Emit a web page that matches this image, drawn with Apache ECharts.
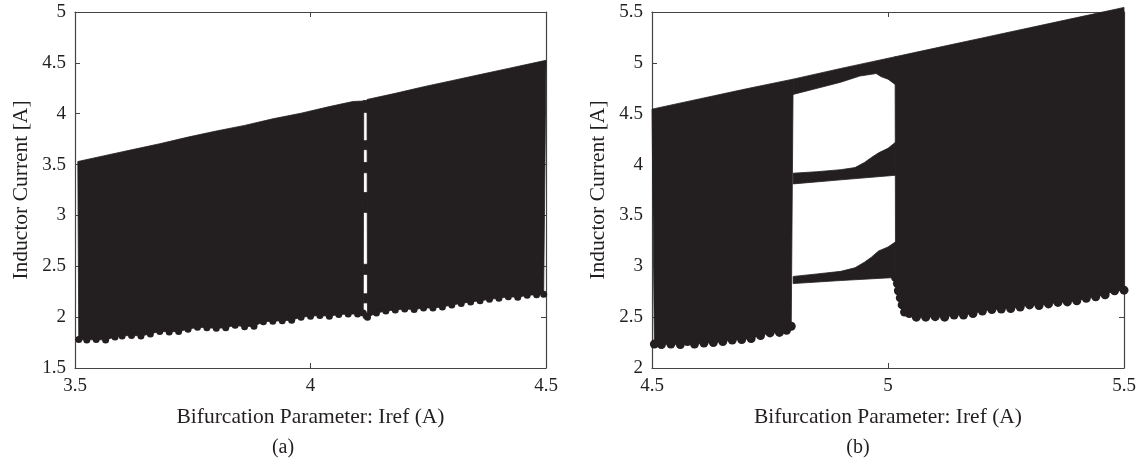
<!DOCTYPE html>
<html>
<head>
<meta charset="utf-8">
<title>Bifurcation diagrams</title>
<script src="https://cdn.jsdelivr.net/npm/echarts@6/dist/echarts.min.js"></script>
<style>
  html, body { margin: 0; padding: 0; background: #ffffff; }
  #chart { width: 1142px; height: 473px; }
</style>
</head>
<body>
<div id="chart"></div>
<script>
// ---- Axis ticks ----
const xTicksA = [3.5, 4, 4.5];
const yTicksA = [1.5, 2, 2.5, 3, 3.5, 4, 4.5, 5];
const xTicksB = [4.5, 5, 5.5];
const yTicksB = [2, 2.5, 3, 3.5, 4, 4.5, 5, 5.5];

// ---- Panel (a): chaotic band, Iref 3.5 .. 4.5 ----
// upper envelope of the band left of the narrow window
const aLeftTop = [[3.506, 3.53], [3.56, 3.585], [3.62, 3.645], [3.68, 3.705], [3.74, 3.77], [3.80, 3.83],
                  [3.86, 3.885], [3.92, 3.95], [3.98, 4.005], [4.04, 4.07], [4.09, 4.12], [4.113, 4.125]];
// lower samples (dot centres) left of the window
const aLeftBottom = [[3.508, 1.78], [3.525, 1.775], [3.545, 1.78], [3.565, 1.775], [3.585, 1.805], [3.60, 1.815],
                     [3.62, 1.82], [3.64, 1.815], [3.66, 1.835], [3.68, 1.86], [3.70, 1.855], [3.72, 1.86],
                     [3.74, 1.88], [3.76, 1.90], [3.78, 1.895], [3.80, 1.89], [3.82, 1.895], [3.84, 1.92],
                     [3.86, 1.905], [3.88, 1.91], [3.90, 1.955], [3.92, 1.96], [3.94, 1.965], [3.96, 1.97],
                     [3.98, 2.0], [4.0, 2.01], [4.02, 2.015], [4.04, 2.01], [4.06, 2.025], [4.08, 2.03],
                     [4.10, 2.03], [4.112, 2.04]];
// upper envelope right of the window
const aRightTop = [[4.12, 4.14], [4.18, 4.2], [4.24, 4.265], [4.30, 4.325], [4.36, 4.385], [4.42, 4.445],
                   [4.48, 4.505], [4.5, 4.525]];
// lower samples right of the window
const aRightBottom = [[4.121, 2.0], [4.14, 2.04], [4.16, 2.06], [4.18, 2.07], [4.20, 2.08], [4.22, 2.075],
                      [4.24, 2.09], [4.26, 2.09], [4.28, 2.10], [4.30, 2.12], [4.32, 2.135], [4.34, 2.15],
                      [4.36, 2.16], [4.38, 2.175], [4.40, 2.185], [4.42, 2.20], [4.44, 2.195], [4.46, 2.215],
                      [4.48, 2.22], [4.495, 2.225]];
// the narrow window and the points that still fall inside it
const aWindow = [4.112, 4.121];
const aWindowHits = [[4.013, 4.13], [3.647, 3.735], [3.42, 3.52], [3.03, 3.225], [2.42, 2.52], [2.14, 2.23], [1.99, 2.04]];

// ---- Panel (b): Iref 4.5 .. 5.5 with a period-3 window ----
const bLeftTop = [[4.5, 4.545], [4.6, 4.645], [4.7, 4.745], [4.799, 4.84]];
const bLeftBottom = [[4.505, 2.235], [4.52, 2.23], [4.54, 2.235], [4.56, 2.23], [4.575, 2.26], [4.59, 2.235],
                     [4.61, 2.245], [4.63, 2.25], [4.65, 2.26], [4.67, 2.275], [4.69, 2.28], [4.71, 2.29],
                     [4.73, 2.32], [4.75, 2.345], [4.77, 2.35], [4.785, 2.37], [4.795, 2.41]];
const bTopBranchTop = [[4.799, 4.84], [4.9, 4.945], [5.016, 5.061]];
const bTopBranchBottom = [[4.799, 4.69], [4.85, 4.75], [4.9, 4.81], [4.94, 4.87], [4.975, 4.895],
                          [4.985, 4.865], [5.0, 4.84], [5.016, 4.785]];
const bMidBranchTop = [[4.799, 3.915], [4.85, 3.93], [4.9, 3.95], [4.93, 3.97], [4.95, 4.02], [4.965, 4.07],
                       [4.98, 4.115], [5.0, 4.16], [5.016, 4.22]];
const bMidBranchBottom = [[4.799, 3.81], [4.9, 3.85], [5.016, 3.895]];
const bLowBranchTop = [[4.799, 2.9], [4.85, 2.925], [4.9, 2.95], [4.93, 2.985], [4.95, 3.04], [4.965, 3.09],
                       [4.98, 3.15], [5.0, 3.19], [5.016, 3.24]];
const bLowBranchBottom = [[4.799, 2.83], [4.9, 2.86], [5.016, 2.89]];
const bRightTop = [[5.015, 5.06], [5.1, 5.145], [5.2, 5.245], [5.3, 5.345], [5.4, 5.445], [5.5, 5.545]];
const bRightBottom = [[5.016, 2.89], [5.02, 2.83], [5.022, 2.76], [5.026, 2.69], [5.03, 2.62], [5.035, 2.55],
                      [5.045, 2.535], [5.06, 2.50], [5.08, 2.50], [5.10, 2.505], [5.12, 2.50], [5.14, 2.52],
                      [5.16, 2.52], [5.18, 2.535], [5.20, 2.56], [5.22, 2.575], [5.24, 2.58], [5.26, 2.585],
                      [5.28, 2.60], [5.30, 2.62], [5.32, 2.615], [5.34, 2.63], [5.36, 2.645], [5.38, 2.65],
                      [5.40, 2.66], [5.42, 2.685], [5.44, 2.70], [5.46, 2.72], [5.48, 2.76], [5.5, 2.765]];

const INK = '#231f20';
const AXIS = '#444444';
const FONT = '"Liberation Serif", "DejaVu Serif", serif';

// closed outline: top edge left→right, then bottom edge right→left
function outline(top, bottom) {
  return top.concat(bottom.slice().reverse());
}
function windowBoxes(win, hits) {
  return hits.map(h => [[win[0], h[0]], [win[1], h[0]], [win[1], h[1]], [win[0], h[1]]]);
}

const shapesA = [outline(aLeftTop, aLeftBottom), outline(aRightTop, aRightBottom)]
  .concat(windowBoxes(aWindow, aWindowHits));
const shapesB = [
  outline(bLeftTop, bLeftBottom),
  outline(bTopBranchTop, bTopBranchBottom),
  outline(bMidBranchTop, bMidBranchBottom),
  outline(bLowBranchTop, bLowBranchBottom),
  outline(bRightTop, bRightBottom)
];

function polygonSeries(shapes, axisIdx) {
  return {
    type: 'custom',
    xAxisIndex: axisIdx, yAxisIndex: axisIdx,
    silent: true,
    clip: false,
    data: shapes.map(s => s[0]),
    renderItem: function (params, api) {
      const pts = shapes[params.dataIndex].map(p => api.coord(p));
      return { type: 'polygon', shape: { points: pts }, style: { fill: INK, stroke: INK, lineWidth: 0.8 } };
    },
    z: 3
  };
}
function dotSeries(points, axisIdx, size) {
  return {
    type: 'scatter',
    xAxisIndex: axisIdx, yAxisIndex: axisIdx,
    silent: true,
    symbol: 'circle',
    symbolSize: size,
    itemStyle: { color: INK, opacity: 1, borderWidth: 0 },
    data: points,
    z: 3
  };
}

function ticks(arr) {
  return { min: arr[0], max: arr[arr.length - 1], interval: arr[1] - arr[0] };
}
const labelStyle = { color: INK, fontFamily: FONT, fontSize: 19 };
const nameStyle = { color: INK, fontFamily: FONT, fontSize: 21.5 };
function xAxis(grid, t, primary) {
  return Object.assign({
    type: 'value', gridIndex: grid,
    position: primary ? 'bottom' : 'top',
    axisLine: { show: true, onZero: false, lineStyle: { color: AXIS, width: 1.2 } },
    axisTick: { show: true, inside: true, length: 5, lineStyle: { color: AXIS } },
    axisLabel: Object.assign({ show: primary, margin: 9 }, labelStyle),
    splitLine: { show: false },
    name: primary ? 'Bifurcation Parameter: Iref (A)' : '',
    nameLocation: 'middle', nameGap: 38,
    nameTextStyle: nameStyle
  }, ticks(t));
}
function yAxis(grid, t, primary) {
  return Object.assign({
    type: 'value', gridIndex: grid,
    position: primary ? 'left' : 'right',
    axisLine: { show: true, onZero: false, lineStyle: { color: AXIS, width: 1.2 } },
    axisTick: { show: true, inside: true, length: 5, lineStyle: { color: AXIS } },
    axisLabel: Object.assign({ show: primary, margin: 9 }, labelStyle),
    splitLine: { show: false },
    name: primary ? 'Inductor Current [A]' : '',
    nameLocation: 'middle', nameGap: 43, nameRotate: 90,
    nameTextStyle: nameStyle
  }, ticks(t));
}

const chart = echarts.init(document.getElementById('chart'), null, { renderer: 'canvas' });
chart.setOption({
  backgroundColor: '#ffffff',
  animation: false,
  grid: [
    { left: 75, top: 12, width: 471, height: 356 },
    { left: 652, top: 12, width: 472, height: 356 }
  ],
  xAxis: [xAxis(0, xTicksA, true), xAxis(0, xTicksA, false), xAxis(1, xTicksB, true), xAxis(1, xTicksB, false)],
  yAxis: [yAxis(0, yTicksA, true), yAxis(0, yTicksA, false), yAxis(1, yTicksB, true), yAxis(1, yTicksB, false)],
  series: [
    polygonSeries(shapesA, 0),
    dotSeries(aLeftBottom.concat(aRightBottom), 0, 7),
    polygonSeries(shapesB, 2),
    dotSeries(bLeftBottom.concat(bRightBottom), 2, 9)
  ],
  graphic: [
    { type: 'text', x: 283, y: 448, style: { text: '(a)', textAlign: 'center', textVerticalAlign: 'middle', font: '20px ' + FONT, fill: INK } },
    { type: 'text', x: 858, y: 448, style: { text: '(b)', textAlign: 'center', textVerticalAlign: 'middle', font: '20px ' + FONT, fill: INK } }
  ]
});
</script>
</body>
</html>
